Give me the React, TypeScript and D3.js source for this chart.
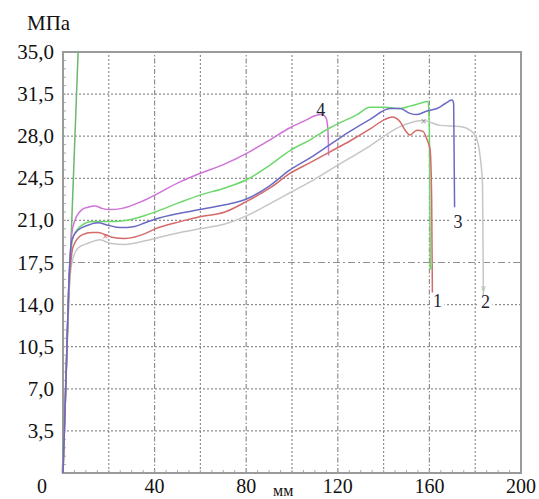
import React from "react";
import * as d3 from "d3";

const width = 539;
const height = 499;
const margin = { top: 52, right: 18, bottom: 26, left: 63 };

// x ticks (мм) and y ticks (МПа)
const xTicks = [0, 40, 80, 120, 160, 200];
const xGrid = [20, 40, 60, 80, 100, 120, 140, 160, 180];
const yTicks = [0, 3.5, 7, 10.5, 14, 17.5, 21, 24.5, 28, 31.5, 35];

// curves: [мм, МПа]
const curve1 = [
  [0, 0], [1.3, 7.7], [2.6, 15.6], [3.5, 17.7], [4.4, 18.8], [8.3, 19.8], [12.7, 20.0],
  [15.3, 20.0], [21.4, 19.6], [27.1, 19.5], [35.8, 19.9], [40.2, 20.3], [51.1, 20.9],
  [59.8, 21.3], [70.7, 21.7], [80.4, 22.6], [90.4, 23.7], [99.1, 24.9], [107.9, 25.8],
  [116.6, 26.7], [125.3, 27.6], [134.1, 28.6], [140.6, 29.4], [143.7, 29.6], [147.2, 29.2],
  [149.4, 28.5], [151.5, 28.1], [154.6, 28.5], [157.2, 28.4], [159.0, 27.7], [160.3, 26.9],
  [161.0, 22.7], [161.3, 15.0],
];
const curve2 = [
  [0, 0], [1.3, 7.3], [2.6, 14.8], [3.9, 17.5], [6.6, 18.7], [10.9, 19.1], [16.2, 19.4],
  [20.5, 19.1], [27.1, 19.0], [35.8, 19.3], [40.2, 19.5], [51.1, 20.0], [59.8, 20.3],
  [70.7, 20.7], [80.4, 21.4], [90.4, 22.4], [99.1, 23.3], [107.9, 24.2], [116.6, 25.2],
  [134.1, 27.2], [147.2, 28.8], [151.5, 29.1], [157.2, 29.3], [164.6, 28.9], [173.4, 28.8],
  [177.8, 28.5], [180.4, 27.9], [182.1, 26.4], [183.2, 23.9], [183.6, 14.6],
];
const curve3 = [
  [0, 0], [1.3, 7.7], [2.6, 16.0], [3.9, 19.4], [6.6, 20.2], [10.9, 20.6], [15.3, 20.8],
  [19.7, 20.6], [24.9, 20.4], [31.4, 20.5], [35.8, 20.8], [40.2, 21.1], [51.1, 21.6],
  [59.8, 21.9], [70.7, 22.3], [80.4, 22.8], [90.4, 23.9], [99.1, 25.2], [107.9, 26.2],
  [116.6, 27.3], [125.3, 28.4], [134.1, 29.4], [142.8, 30.3], [147.2, 30.3], [151.5, 29.9],
  [154.6, 29.8], [159.0, 30.1], [163.3, 30.3], [166.8, 30.7], [169.9, 31.0], [170.6, 30.7],
  [171.0, 22.1],
];
const curve4 = [
  [0, 0], [1.3, 7.7], [2.6, 16.0], [3.1, 18.0], [3.9, 20.0], [5.2, 21.0], [8.3, 21.9],
  [10.9, 22.1], [14.0, 22.2], [17.0, 22.0], [20.5, 21.9], [25.8, 22.0], [35.8, 22.7],
  [51.1, 24.2], [59.8, 24.9], [70.7, 25.7], [80.4, 26.6], [90.4, 27.7], [99.1, 28.7],
  [105.7, 29.3], [110.0, 29.7], [113.1, 29.8], [114.9, 29.5], [115.7, 28.5], [116.0, 26.4],
];
const curve5 = [
  [0, 0], [1.3, 7.7], [2.6, 16.0], [3.5, 18.5], [4.4, 19.6], [8.3, 20.6], [12.7, 20.9],
  [19.7, 20.9], [25.8, 20.95], [35.8, 21.4], [40.2, 21.7], [51.1, 22.5], [59.8, 23.1],
  [70.7, 23.7], [80.4, 24.4], [90.4, 25.6], [99.1, 26.8], [107.9, 27.7], [116.6, 28.7],
  [128.4, 29.8], [134.1, 30.4], [140.6, 30.4], [147.2, 30.3], [151.5, 30.5], [157.2, 30.8],
  [159.4, 30.9], [160.0, 28.5], [160.4, 16.9],
];
const steep = [[-0.3, 0], [6.6, 35]];

const series = [
  { id: "4", pts: curve4, color: "#d073d8" },
  { id: "5", pts: curve5, color: "#6cd86c" },
  { id: "2", pts: curve2, color: "#c6c6c6" },
  { id: "1", pts: curve1, color: "#d46a6a" },
  { id: "3", pts: curve3, color: "#6a6ac4" },
];

// small markers left on the curves
const marks = [
  { x: 18.5, y: 19.7, color: "#d46a6a", glyph: "×" },
  { x: 157.5, y: 29.3, color: "#909090", glyph: "×" },
  { x: 160.6, y: 17.3, color: "#6cd86c", glyph: "v" },
  { x: 183.6, y: 15.4, color: "#a0c0a0", glyph: "v" },
];

const labels = [
  { text: "4", x: 112.5, y: 29.7, bg: false },
  { text: "3", x: 172.5, y: 20.4, bg: true },
  { text: "1", x: 163.5, y: 13.8, bg: true },
  { text: "2", x: 184.5, y: 13.7, bg: true },
];

const serif = "'Liberation Serif', 'Times New Roman', serif";

export default function App() {
  const x = d3.scaleLinear().domain([0, 200]).range([margin.left, width - margin.right]);
  const y = d3.scaleLinear().domain([0, 35]).range([height - margin.bottom, margin.top]);
  const [x0, x1] = x.range();
  const [y0, y1] = y.range();

  const line = d3
    .line<number[]>()
    .x(d => x(d[0]))
    .y(d => y(d[1]))
    .curve(d3.curveMonotoneX);

  const fmt = (v: number) => d3.format(".1f")(v).replace(".", ",");

  const yMinor = d3.range(0, 35.01, 0.7);
  const xMinor = d3.range(0, 200.01, 5);

  return (
    <svg
      width={width}
      height={height}
      style={{ position: "absolute", left: 0, top: 0, background: "#fff" }}
    >
      <defs>
        <clipPath id="plot">
          <rect x={x0 - 2} y={y1} width={x1 - x0 + 2} height={y0 - y1} />
        </clipPath>
      </defs>

      {/* grid */}
      {yTicks.filter(t => t > 0 && t < 35).map(t => (
        <line
          key={"gy" + t}
          x1={x0}
          x2={x1}
          y1={y(t)}
          y2={y(t)}
          stroke="#8f8f8f"
          strokeWidth={1.2}
          strokeDasharray={t === 17.5 ? "7,3,2,3" : "2,2"}
        />
      ))}
      {xGrid.map(t => (
        <line
          key={"gx" + t}
          x1={x(t)}
          x2={x(t)}
          y1={y0}
          y2={y1}
          stroke="#8f8f8f"
          strokeWidth={1.2}
          strokeDasharray={t % 40 === 0 ? "5,2,1.5,2" : "2,2"}
        />
      ))}

      {/* minor ticks */}
      {yMinor.map(t => (
        <line key={"my" + t} x1={x0} x2={x0 + 3} y1={y(t)} y2={y(t)} stroke="#aaa" />
      ))}
      {xMinor.map(t => (
        <line key={"mx" + t} x1={x(t)} x2={x(t)} y1={y0} y2={y0 - 3} stroke="#aaa" />
      ))}

      {/* frame */}
      <rect
        x={x0}
        y={y1}
        width={x1 - x0}
        height={y0 - y1}
        fill="none"
        stroke="#9a9a9a"
        strokeWidth={2}
      />

      {/* curves */}
      <g clipPath="url(#plot)" fill="none" strokeWidth={1.5}>
        <path d={line(steep) || ""} stroke="#6cb86c" />
        {series.map(s => (
          <path key={s.id} d={line(s.pts) || ""} stroke={s.color} />
        ))}
      </g>

      {marks.map((m, i) => (
        <text
          key={"m" + i}
          x={x(m.x)}
          y={y(m.y) + 3}
          textAnchor="middle"
          fontFamily="'DejaVu Sans', sans-serif"
          fontSize={8}
          fill={m.color}
        >
          {m.glyph}
        </text>
      ))}

      {/* curve numbers */}
      {labels.map(l => (
        <g key={l.text}>
          {l.bg && (
            <rect x={x(l.x) - 7} y={y(l.y) - 13} width={14} height={16} fill="#fff" />
          )}
          <text
            x={x(l.x)}
            y={y(l.y)}
            textAnchor="middle"
            fontFamily={serif}
            fontSize={18}
            fill="#1c2233"
          >
            {l.text}
          </text>
        </g>
      ))}

      {/* y tick labels */}
      {yTicks.filter(t => t > 0).map(t => (
        <text
          key={"ty" + t}
          x={54}
          y={y(t) + 7}
          textAnchor="end"
          fontFamily={serif}
          fontSize={21}
          fill="#111"
        >
          {fmt(t)}
        </text>
      ))}
      <text x={27} y={30} fontFamily={serif} fontSize={21} fill="#111">
        МПа
      </text>

      {/* x tick labels */}
      {xTicks.map(t => (
        <text
          key={"tx" + t}
          x={t === 0 ? x(t) - 21 : x(t)}
          y={493}
          textAnchor="middle"
          fontFamily={serif}
          fontSize={20}
          fill="#111"
        >
          {t}
        </text>
      ))}
      <text x={273} y={496} fontFamily={serif} fontSize={16} fill="#111">
        мм
      </text>
    </svg>
  );
}
